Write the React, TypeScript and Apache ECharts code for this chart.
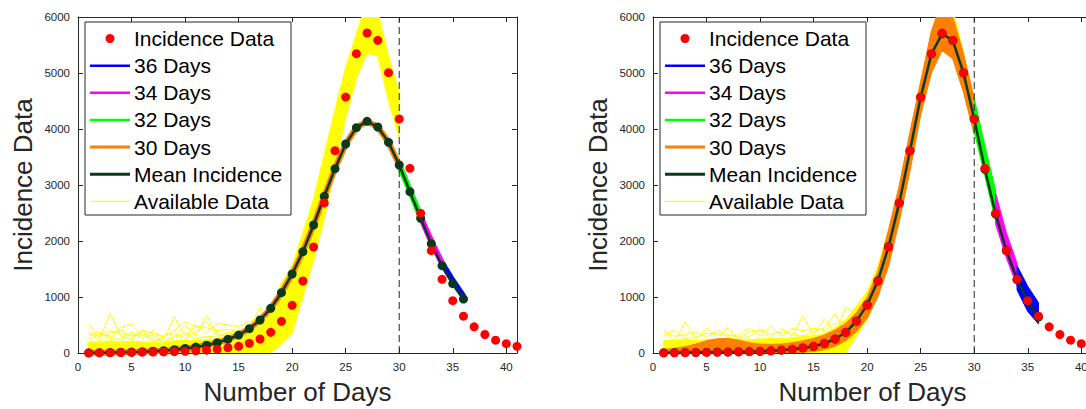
import React, { useEffect, useRef } from "react";
import * as echarts from "echarts";

const FONT = '"Liberation Sans", Arial, Helvetica, sans-serif';
const INK = "#262626";

// ---------- data ----------
const days41 = [1, 2, 3, 4, 5, 6, 7, 8, 9, 10, 11, 12, 13, 14, 15, 16, 17, 18, 19, 20, 21, 22, 23, 24, 25, 26, 27, 28, 29, 30, 31, 32, 33, 34, 35, 36, 37, 38, 39, 40, 41];
const incidence = [2, 3, 5, 8, 10, 14, 16, 20, 24, 30, 38, 50, 65, 95, 120, 172, 250, 369, 565, 851, 1286, 1893, 2679, 3613, 4571, 5345, 5714, 5583, 5006, 4179, 3298, 2494, 1827, 1316, 934, 658, 467, 330, 229, 167, 119];

// left panel
const meanLeft = [4, 6, 9, 13, 18, 24, 32, 42, 58, 80, 105, 140, 185, 244, 321, 435, 589, 798, 1077, 1411, 1810, 2286, 2798, 3292, 3732, 4024, 4137, 4036, 3762, 3357, 2881, 2405, 1952, 1559, 1238, 964];
const leftFc30 = [4, 6, 9, 13, 18, 24, 32, 42, 58, 80, 105, 140, 185, 244, 321, 435, 589, 798, 1077, 1411, 1810, 2286, 2798, 3292, 3732, 4024, 4137, 4036, 3762, 3357];
const leftFc32 = [3357, 2900, 2430];
const leftFc34 = [2430, 1990, 1600];
const leftFc36 = [1600, 1290, 1010];
const leftYellowLo = [0, 0, 0, 0, 0, 0, 0, 0, 0, 0, 0, 0, 0, 0, 0, 0, 0, 0, 150, 350, 1000, 1650, 2400, 3300, 4200, 4900, 5350, 5300, 4500, 3850];
const leftYellowHi = [200, 190, 220, 200, 210, 200, 190, 170, 220, 230, 220, 240, 250, 270, 300, 360, 480, 700, 1250, 1550, 2150, 2750, 3550, 4350, 5100, 5700, 6300, 6100, 5300, 4650];
const leftNoiseA = [520, 250, 710, 300, 250, 400, 250, 200, 300, 500, 300, 670, 350, 300, 350, 450, 820, 0, 500];
const leftNoiseB = [300, 380, 250, 460, 520, 300, 400, 250, 650, 300, 500, 350, 530, 500, 470, 560, 600, 700, 1200];
const leftNoiseC = [350, 300, 400, 350, 300, 410, 350, 300, 400, 560, 480, 450, 400, 420, 380, 500, 400, 150, 600];
const leftNoiseD = [250, 330, 300, 230, 380, 260, 330, 180, 280, 360, 250, 300, 280, 380, 300, 420, 650, 500, 900];
const leftNoiseE = [380, 200, 350, 420, 300, 350, 200, 300, 350, 260, 380, 560, 300, 330, 420, 350, 520, 300, 750];

// right panel
const meanRight = [5, 8, 10, 12, 15, 18, 20, 22, 25, 30, 38, 50, 65, 90, 120, 170, 250, 370, 570, 860, 1290, 1900, 2680, 3610, 4570, 5340, 5700, 5580, 5000, 4180, 3280, 2480, 1830, 1310, 930, 640];
const rightFc30Lo = [0, 0, 0, 0, 0, 0, 0, 0, 0, 0, 0, 0, 0, 10, 30, 60, 120, 220, 380, 620, 1000, 1550, 2350, 3250, 4250, 5000, 5400, 5250, 4650, 3900];
const rightFc30Hi = [60, 85, 115, 160, 220, 255, 260, 230, 185, 160, 155, 160, 185, 220, 260, 320, 410, 530, 720, 1000, 1450, 2200, 3000, 3950, 4850, 5750, 6300, 6000, 5350, 4550];
const rightFc32Lo = [3950, 3150, 2350];
const rightFc32Hi = [4550, 3700, 2900];
const rightFc34Lo = [2300, 1700, 1200];
const rightFc34Hi = [2850, 2150, 1600];
const rightFc36Lo = [1125, 740, 520];
const rightFc36Hi = [1560, 1190, 900];
const rightYellowLo = [0, 0, 0, 0, 0, 0, 0, 0, 0, 0, 0, 0, 0, 0, 0, 0, 0, 0, 300, 600, 1050, 1650, 2400, 3350, 4300, 5050, 5400, 5300, 4750, 3950];
const rightYellowHi = [220, 230, 240, 220, 240, 250, 260, 240, 240, 250, 260, 260, 270, 300, 300, 350, 450, 600, 830, 1100, 1550, 2200, 2950, 3900, 4850, 5700, 6300, 6150, 5350, 4450];
const rightNoiseA = [440, 200, 560, 230, 440, 300, 458, 250, 300, 411, 250, 440, 300, 673, 300, 613, 350, 815, 700, 1000];
const rightNoiseB = [300, 411, 250, 292, 350, 351, 300, 321, 440, 300, 482, 300, 440, 400, 440, 400, 530, 0, 827, 900];
const rightNoiseC = [380, 300, 330, 380, 280, 400, 330, 280, 380, 420, 330, 380, 350, 300, 380, 450, 700, 350, 780, 950];

const xTicks = [0, 41];
const yTicks = [0, 6000];
const cutoffDay = 30;

const legendLabels = ["Incidence Data", "36 Days", "34 Days", "32 Days", "30 Days", "Mean Incidence", "Available Data"];
const COLORS = {
  red: "#ff0000",
  blue: "#0000ff",
  magenta: "#ff00ff",
  green: "#00ff00",
  orange: "#ff8000",
  mean: "#0a3a1e",
  yellow: "#ffff00",
};

// ---------- helpers ----------
const pts = (xs: number[], ys: number[]) => ys.map((y, i) => [xs[i], y]);
const range = (a: number, b: number) => days41.filter((d) => d >= a && d <= b);

const lineS = (ax: number, xs: number[], ys: number[], color: string, width: number, z: number, extra: any = {}) => ({
  type: "line",
  xAxisIndex: ax,
  yAxisIndex: ax,
  data: pts(xs, ys),
  symbol: "none",
  lineStyle: { color, width },
  itemStyle: { color, opacity: 1 },
  z,
  silent: true,
  ...extra,
});

const band = (ax: number, xs: number[], lo: number[], hi: number[], color: string, z: number) => ({
  type: "custom",
  xAxisIndex: ax,
  yAxisIndex: ax,
  clip: true,
  z,
  silent: true,
  data: [[xs[0], lo[0]]],
  renderItem: (_params: any, api: any) => {
    const points: number[][] = [];
    xs.forEach((x, i) => points.push(api.coord([x, hi[i]])));
    for (let i = xs.length - 1; i >= 0; i--) points.push(api.coord([xs[i], lo[i]]));
    return {
      type: "polygon",
      shape: { points },
      style: { fill: color, stroke: color, lineWidth: 1 },
    };
  },
});

const plain = (v: number) => String(v);

const xAx = (grid: number, pos: string, labels: boolean) => ({
  type: "value",
  gridIndex: grid,
  position: pos,
  min: xTicks[0],
  max: xTicks[1],
  interval: 5,
  axisLine: { show: true, onZero: false, lineStyle: { color: INK, width: 1 } },
  axisTick: { show: true, inside: true, length: 5, lineStyle: { color: INK } },
  axisLabel: { show: labels, margin: 8, fontSize: 11.5, color: INK, fontFamily: FONT, showMaxLabel: false, formatter: plain },
  splitLine: { show: false },
});
const yAx = (grid: number, pos: string, labels: boolean) => ({
  type: "value",
  gridIndex: grid,
  position: pos,
  min: yTicks[0],
  max: yTicks[1],
  interval: 1000,
  axisLine: { show: true, onZero: false, lineStyle: { color: INK, width: 1 } },
  axisTick: { show: true, inside: true, length: 5, lineStyle: { color: INK } },
  axisLabel: { show: labels, margin: 8, fontSize: 11.5, color: INK, fontFamily: FONT, formatter: plain },
  splitLine: { show: false },
});

const legendGraphic = (x0: number, y0: number) => {
  const els: any[] = [
    {
      type: "rect",
      z: 100,
      shape: { x: x0, y: y0, width: 206, height: 193 },
      style: { fill: "#ffffff", stroke: INK, lineWidth: 1 },
    },
  ];
  const lineStyles: any[] = [
    null,
    [COLORS.blue, 2.5],
    [COLORS.magenta, 2.5],
    [COLORS.green, 2.5],
    [COLORS.orange, 3],
    [COLORS.mean, 3],
    [COLORS.yellow, 1.2],
  ];
  legendLabels.forEach((label, i) => {
    const cy = y0 + 16.5 + i * 27.15;
    const ls = lineStyles[i];
    if (ls === null) {
      els.push({ type: "circle", z: 101, shape: { cx: x0 + 25, cy, r: 4.5 }, style: { fill: COLORS.red } });
    } else {
      els.push({
        type: "line",
        z: 101,
        shape: { x1: x0 + 5, y1: cy, x2: x0 + 45, y2: cy },
        style: { stroke: ls[0], lineWidth: ls[1] },
      });
    }
    els.push({
      type: "text",
      z: 101,
      x: x0 + 49,
      y: cy,
      style: { text: label, fontSize: 21, fontFamily: FONT, fill: "#000000", align: "left", verticalAlign: "middle" },
    });
  });
  return els;
};

const titleGraphic = (cx: number, ytx: number) => [
  {
    type: "text",
    z: 100,
    x: cx,
    y: 392,
    style: { text: "Number of Days", fontSize: 26, fontFamily: FONT, fill: INK, align: "center", verticalAlign: "middle" },
  },
  {
    type: "text",
    z: 100,
    x: ytx,
    y: 185,
    rotation: Math.PI / 2,
    style: { text: "Incidence Data", fontSize: 26, fontFamily: FONT, fill: INK, align: "center", verticalAlign: "middle" },
  },
];

const panelSeries = (ax: number, left: boolean) => {
  const s: any[] = [];
  const d30 = range(1, 30);
  if (left) {
    s.push(band(ax, d30, leftYellowLo, leftYellowHi, COLORS.yellow, 1));
    [leftNoiseA, leftNoiseB, leftNoiseC, leftNoiseD, leftNoiseE].forEach((n) =>
      s.push(lineS(ax, days41.slice(0, n.length), n, COLORS.yellow, 1, 2))
    );
    s.push(lineS(ax, d30, leftFc30, COLORS.orange, 6, 3));
    s.push(lineS(ax, range(30, 32), leftFc32, COLORS.green, 6, 4));
    s.push(lineS(ax, range(32, 34), leftFc34, COLORS.magenta, 6, 5));
    s.push(lineS(ax, range(34, 36), leftFc36, COLORS.blue, 6, 6));
    s.push(
      lineS(ax, range(1, 36), meanLeft, COLORS.mean, 2.5, 7, {
        symbol: "circle",
        symbolSize: 9,
        showSymbol: true,
      })
    );
  } else {
    s.push(band(ax, d30, rightYellowLo, rightYellowHi, COLORS.yellow, 1));
    [rightNoiseA, rightNoiseB, rightNoiseC].forEach((n) =>
      s.push(lineS(ax, days41.slice(0, n.length), n, COLORS.yellow, 1, 2))
    );
    s.push(band(ax, d30, rightFc30Lo, rightFc30Hi, COLORS.orange, 3));
    s.push(band(ax, range(30, 32), rightFc32Lo, rightFc32Hi, COLORS.green, 4));
    s.push(band(ax, range(32, 34), rightFc34Lo, rightFc34Hi, COLORS.magenta, 5));
    s.push(band(ax, range(34, 36), rightFc36Lo, rightFc36Hi, COLORS.blue, 6));
    s.push(
      lineS(ax, range(1, 36), meanRight, COLORS.mean, 2.5, 7, {
        symbol: "circle",
        symbolSize: 9,
        showSymbol: true,
      })
    );
  }
  s.push(
    lineS(ax, [cutoffDay, cutoffDay], [yTicks[0], yTicks[1]], INK, 1, 8, {
      lineStyle: { color: INK, width: 1, type: [7, 4] },
    })
  );
  s.push({
    type: "scatter",
    xAxisIndex: ax,
    yAxisIndex: ax,
    data: pts(days41, incidence),
    symbol: "circle",
    symbolSize: 9,
    itemStyle: { color: COLORS.red, opacity: 1 },
    z: 9,
    silent: true,
  });
  return s;
};

const option: any = {
  animation: false,
  backgroundColor: "#ffffff",
  textStyle: { fontFamily: FONT },
  grid: [
    { left: 78, top: 17, width: 439, height: 336, outerBoundsMode: "none", containLabel: false },
    { left: 653, top: 17, width: 439, height: 336, outerBoundsMode: "none", containLabel: false },
  ],
  xAxis: [xAx(0, "bottom", true), xAx(0, "top", false), xAx(1, "bottom", true), xAx(1, "top", false)],
  yAxis: [yAx(0, "left", true), yAx(0, "right", false), yAx(1, "left", true), yAx(1, "right", false)],
  series: [...panelSeries(0, true), ...panelSeries(2, false)],
  graphic: [...legendGraphic(85, 22), ...legendGraphic(660, 22), ...titleGraphic(297.5, 23), ...titleGraphic(872.5, 598)],
};

export default function App() {
  const ref = useRef<HTMLDivElement>(null);
  useEffect(() => {
    if (!ref.current) return;
    const chart = echarts.init(ref.current, null, { renderer: "svg" });
    chart.setOption(option);
    return () => chart.dispose();
  }, []);
  return (
    <div
      ref={ref}
      style={{ position: "absolute", left: 0, top: 0, width: 1086, height: 409, background: "#ffffff", overflow: "hidden" }}
    />
  );
}
